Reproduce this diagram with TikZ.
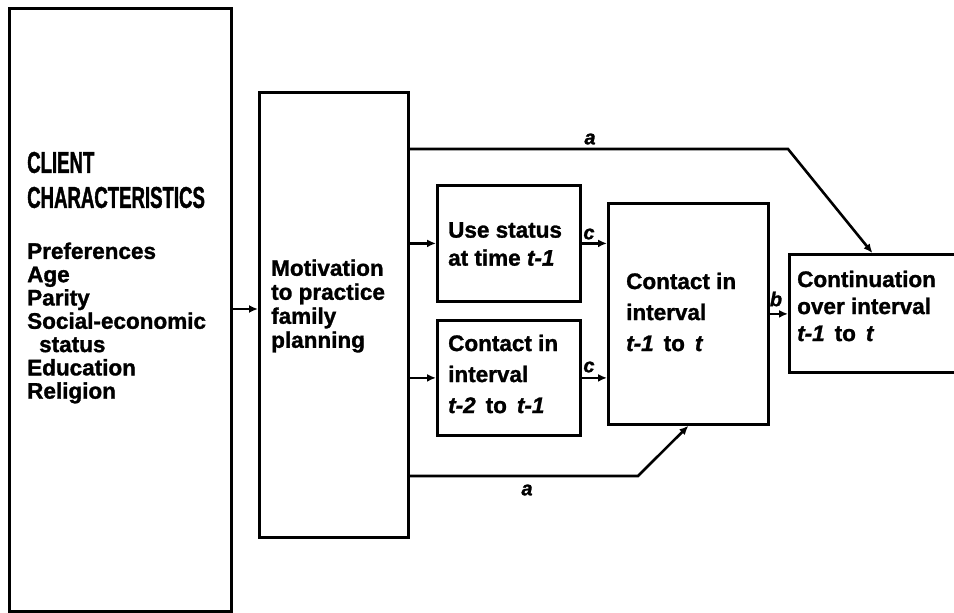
\documentclass[tikz,border=0pt]{standalone}
\usepackage{fontspec}
\setmainfont{Liberation Sans}[BoldFeatures={FakeBold=1.3},BoldItalicFeatures={FakeBold=1.3}]
\newfontfamily\condfont{Liberation Sans}[FakeStretch=0.62,BoldFeatures={FakeBold=1.3}]
\usetikzlibrary{arrows.meta}
\begin{document}
\begin{tikzpicture}[x=1pt,y=-1pt,
  box/.style={draw,line width=2.8pt,anchor=north west,inner sep=0pt},
  conn/.style={line width=2.6pt,-{Latex[length=9pt,width=8pt]}},
  txt/.style={anchor=west,inner sep=0pt,align=left,font=\bfseries\fontsize{22.5}{24}\selectfont},
  lab/.style={inner sep=0pt,font=\bfseries\itshape\fontsize{20}{20}\selectfont}]
\useasboundingbox (0,0) rectangle (954,613);
% boxes
\node[box,minimum width=222pt,minimum height=603pt] (client) at (8,7) {};
\node[box,minimum width=149pt,minimum height=445pt] (motiv) at (258,91) {};
\node[box,minimum width=143pt,minimum height=116pt] (use) at (436,184) {};
\node[box,minimum width=143pt,minimum height=115pt] (prev) at (436,319) {};
\node[box,minimum width=160pt,minimum height=221pt] (cur) at (607,202) {};
\node[box,minimum width=166pt,minimum height=118pt] (cont) at (788,253) {};
% texts
\node[anchor=west,inner sep=0pt,align=left,font=\condfont\bfseries\fontsize{30}{35}\selectfont] (hdr) at (27,180) {CLIENT\\CHARACTERISTICS};
\node[txt,font=\bfseries\fontsize{22.5}{23.3}\selectfont] (list) at (27,323) {Preferences\\Age\\Parity\\Social-economic\\\hspace*{12pt}status\\Education\\Religion};
\node[txt] (motivtxt) at (271,306) {Motivation\\to practice\\family\\planning};
\node[txt,font=\bfseries\fontsize{22.5}{28}\selectfont] (usetxt) at (448,244) {Use status\\at time \textit{t-1}};
\node[txt,font=\bfseries\fontsize{22.5}{31}\selectfont] (prevtxt) at (448,374) {Contact in\\interval\\\textit{t-2}\, to\, \textit{t-1}};
\node[txt,font=\bfseries\fontsize{22.5}{31}\selectfont] (curtxt) at (626,312) {Contact in\\interval\\\textit{t-1}\, to\, \textit{t}};
\node[txt,font=\bfseries\fontsize{22.5}{27}\selectfont] (conttxt) at (797,306) {Continuation\\over interval\\\textit{t-1}\, to\, \textit{t}};
% connectors
\coordinate (m1) at (motiv.east |- 0,149);
\coordinate (k1) at (788,149);
\coordinate (m2) at (motiv.east |- 0,476);
\coordinate (k2) at (638,476);
\draw[conn] (client.east |- 0,309) -- (motiv.west |- 0,309);
\draw[conn] (motiv.east |- use.west) -- (use.west);
\draw[conn] (motiv.east |- prev.west) -- (prev.west);
\draw[conn] (use.east) -- (cur.west |- use.east);
\draw[conn] (prev.east) -- (cur.west |- prev.east);
\draw[conn] (cur.east) -- (cont.west |- cur.east);
\draw[conn] (m1) -- (k1) -- (cont.north);
\draw[conn] (m2) -- (k2) -- (cur.south);
% labels
\node[lab] (la1) at (590,139) {a};
\node[lab] (la2) at (527,490) {a};
\node[lab] (lc1) at (589,234) {c};
\node[lab] (lc2) at (589,367) {c};
\node[lab] (lb) at (776,299) {b};
\end{tikzpicture}
\end{document}
